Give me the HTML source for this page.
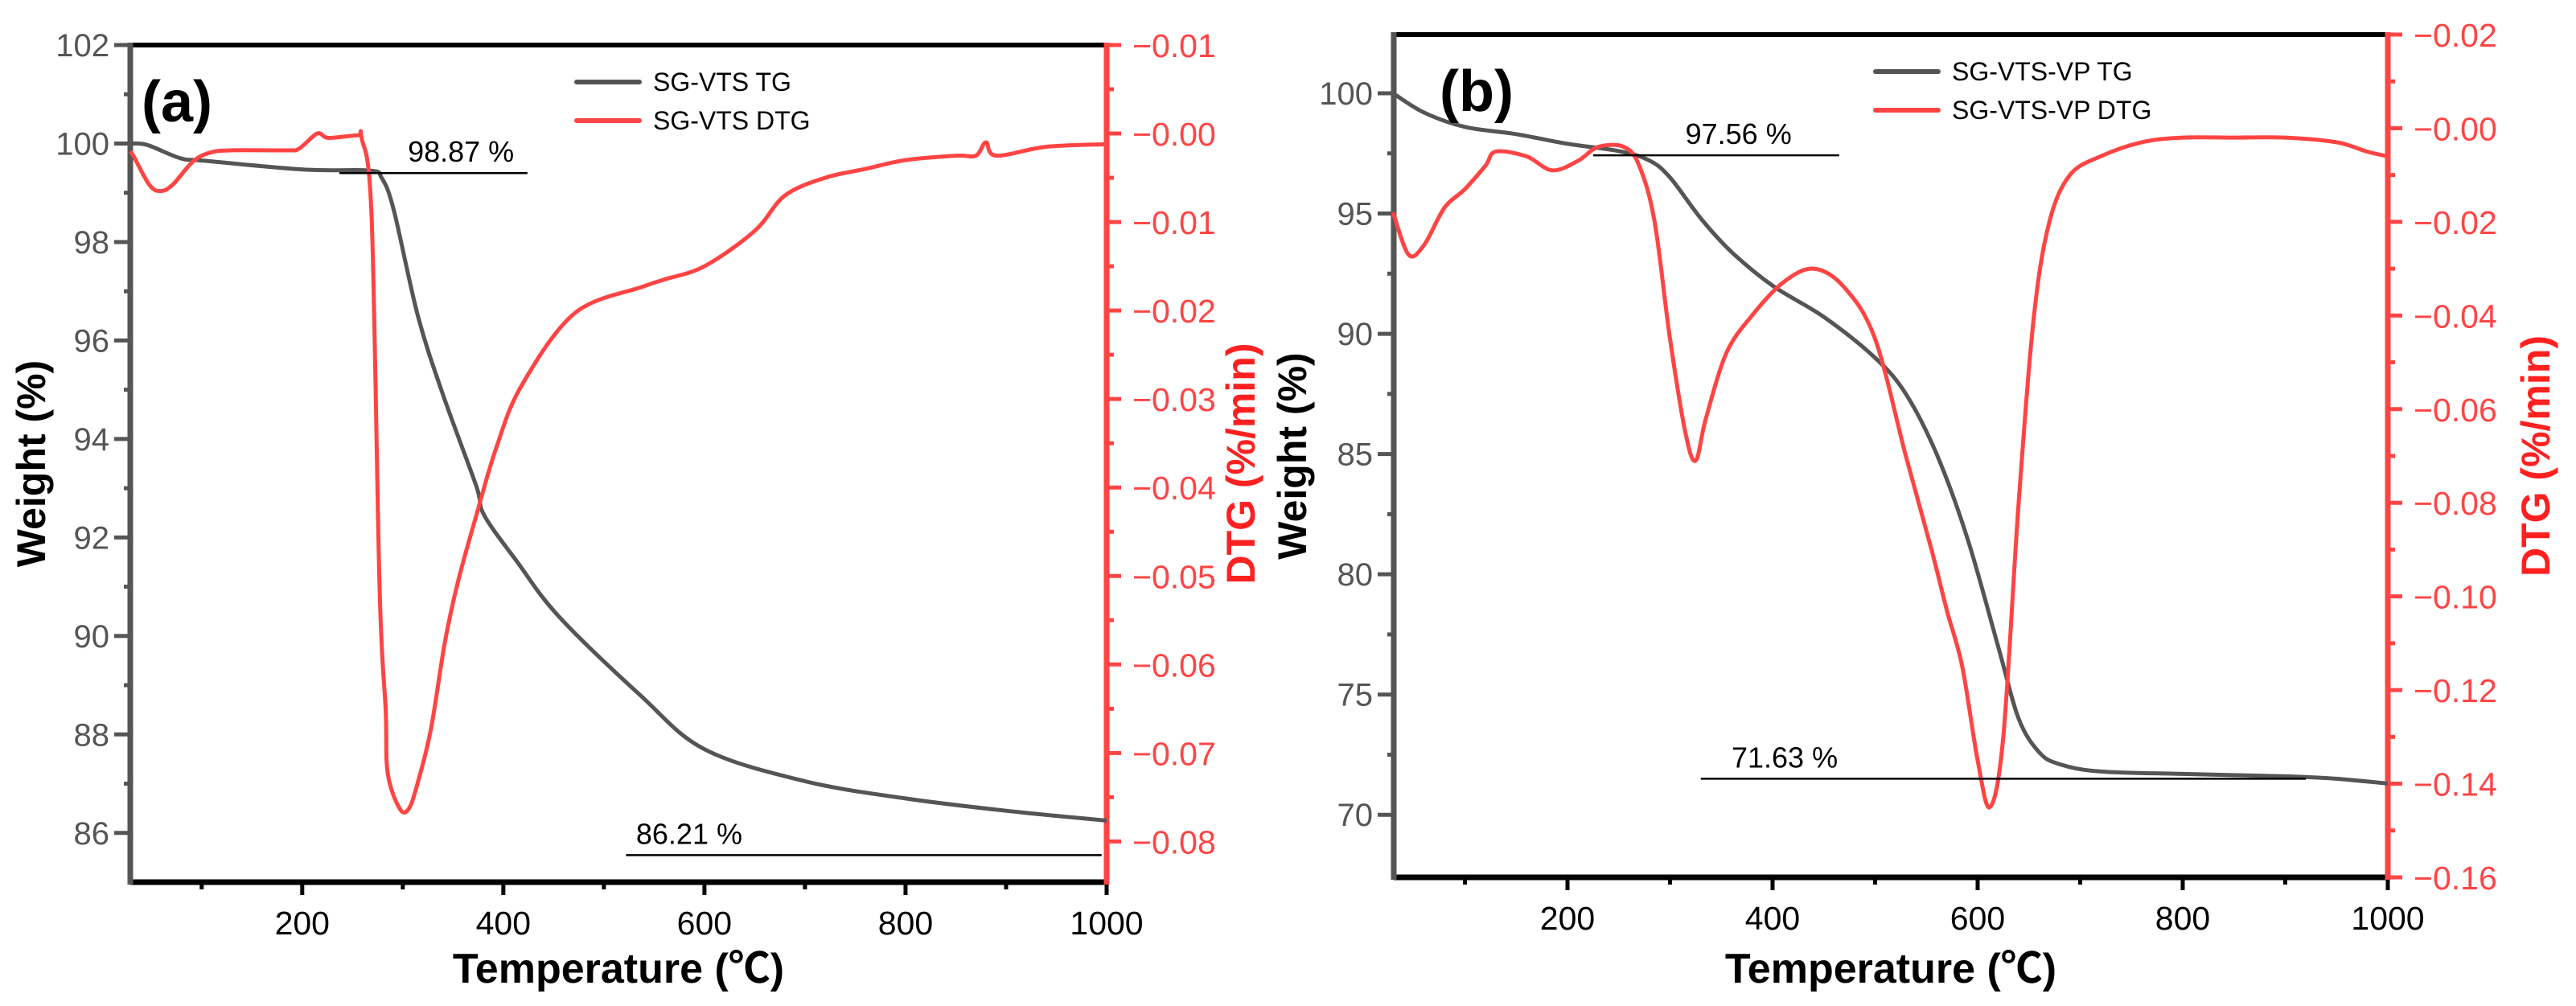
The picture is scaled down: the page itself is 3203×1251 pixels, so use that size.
<!DOCTYPE html>
<html><head><meta charset="utf-8"><style>
html,body{margin:0;padding:0;background:#fff;}
svg{display:block;font-family:"Liberation Sans","Noto Sans CJK SC",sans-serif;}
</style></head><body>
<svg id="c" width="3203" height="1251" viewBox="0 0 3203 1251" xmlns="http://www.w3.org/2000/svg"></svg>
<script>
// ---- Panel (a) data ----
const aTgT = [29,46,79,103,202,267,279,291,315,340,373,381,414,455,536,600,700,800,900,1000];
const aTgW = [100.0,99.97,99.7,99.65,99.47,99.45,99.3,98.65,96.5,94.9,93.05,92.45,91.5,90.4,88.8,87.7,87.05,86.7,86.45,86.25];
const aDtgT = [29,32,48,59,71,91,107,128,185,197,215,226,255,259,269,277,283,285,297,306,315,328,342,355,373,393,418,471,539,560,600,650,680,720,760,800,850,870,880,890,940,1000];
const aDtgV = [-0.002,-0.0025,-0.0058,-0.0065,-0.0058,-0.0032,-0.0022,-0.0019,-0.0019,-0.0017,0.0,-0.0005,-0.0002,-0.0005,-0.0095,-0.0517,-0.0652,-0.0723,-0.0763,-0.0763,-0.0733,-0.0673,-0.0574,-0.0506,-0.0432,-0.0355,-0.0285,-0.0203,-0.0173,-0.0165,-0.0150,-0.0110,-0.0070,-0.0050,-0.0040,-0.0030,-0.0025,-0.0025,-0.0010,-0.0025,-0.0015,-0.0012];
const aWTicks = [86,88,90,92,94,96,98,100,102];
const aDtgTicks = [0.01,0,-0.01,-0.02,-0.03,-0.04,-0.05,-0.06,-0.07,-0.08];
const aDtgLabels = ["−0.01","−0.00","−0.01","−0.02","−0.03","−0.04","−0.05","−0.06","−0.07","−0.08"];
// ---- Panel (b) data ----
const bTgT = [30,60,100,150,200,250,280,300,330,360,400,450,500,530,560,590,620,640,660,680,720,800,900,950,1000];
const bTgW = [100,99.2,98.6,98.3,97.9,97.6,97.2,96.5,94.8,93.4,92.0,90.7,89.0,87.5,85.0,81.5,77.0,74.0,72.6,72.1,71.8,71.7,71.6,71.5,71.3];
const bDtgT = [30,45,60,80,100,120,130,160,185,210,230,255,270,285,300,315,325,335,355,380,410,440,470,500,530,555,570,585,600,612,625,640,655,670,690,720,760,800,850,900,950,980,1000];
const bDtgV = [-0.018,-0.027,-0.025,-0.017,-0.013,-0.008,-0.005,-0.006,-0.009,-0.007,-0.004,-0.004,-0.008,-0.02,-0.045,-0.065,-0.071,-0.062,-0.048,-0.04,-0.033,-0.03,-0.034,-0.045,-0.07,-0.09,-0.103,-0.115,-0.135,-0.145,-0.13,-0.08,-0.04,-0.02,-0.01,-0.006,-0.003,-0.002,-0.002,-0.002,-0.003,-0.005,-0.006];
const bWTicks = [70,75,80,85,90,95,100];
const bDtgTicks = [0.02,0,-0.02,-0.04,-0.06,-0.08,-0.10,-0.12,-0.14,-0.16];
const bDtgLabels = ["−0.02","−0.00","−0.02","−0.04","−0.06","−0.08","−0.10","−0.12","−0.14","−0.16"];
const xTicks = [200,400,600,800,1000];

const svg = document.getElementById('c');
const NS = 'http://www.w3.org/2000/svg';
function mk(tag, attrs, parent){const e=document.createElementNS(NS,tag);for(const k in attrs)e.setAttribute(k,attrs[k]);(parent||svg).appendChild(e);return e;}
function txt(s, attrs, parent){const e=mk('text',attrs,parent);e.textContent=s;return e;}
function smooth(pts){
  let d='M'+pts[0][0].toFixed(1)+','+pts[0][1].toFixed(1);
  for(let i=0;i<pts.length-1;i++){
    const p0=pts[Math.max(0,i-1)],p1=pts[i],p2=pts[i+1],p3=pts[Math.min(pts.length-1,i+2)];
    const k=1/6;
    const c1=[p1[0]+(p2[0]-p0[0])*k,p1[1]+(p2[1]-p0[1])*k];
    const c2=[p2[0]-(p3[0]-p1[0])*k,p2[1]-(p3[1]-p1[1])*k];
    d+=' C'+c1[0].toFixed(1)+','+c1[1].toFixed(1)+' '+c2[0].toFixed(1)+','+c2[1].toFixed(1)+' '+p2[0].toFixed(1)+','+p2[1].toFixed(1);
  }
  return d;
}

function panel(cfg){
  const g = mk('g',{});
  
  
  const X = t => cfg.L + (t - cfg.t0)*(cfg.R-cfg.L)/(cfg.t1-cfg.t0);
  const YW = w => cfg.B - (w - cfg.w0)*(cfg.B-cfg.T)/(cfg.w1-cfg.w0);
  const YD = v => cfg.B - (v - cfg.d0)*(cfg.B-cfg.T)/(cfg.d1-cfg.d0);
  for(let t=100;t<=1000;t+=100){
    const major = t%200===0;
    const tk = mk('line',{x1:X(t),x2:X(t),y1:cfg.B,y2:cfg.B+(major?16:9),stroke:'#000','stroke-width':5},g);
    
    
  }
  xTicks.forEach(t=>{
    const l = txt(String(t),{x:X(t),y:cfg.B+65,'text-anchor':'middle','font-size':41,fill:'#000'},g);
    
    
  });
  for(let w=cfg.wMinorStart; w<=cfg.w1+1e-6; w+=cfg.wMinor){
    const isMaj = cfg.wTicks.some(v=>Math.abs(v-w)<1e-6);
    const tk = mk('line',{x1:cfg.L-(isMaj?20:8),x2:cfg.L,y1:YW(w),y2:YW(w),stroke:'#555','stroke-width':5},g);
    
    
  }
  cfg.wTicks.forEach(w=>{
    const l = txt(String(w),{x:cfg.L-26,y:YW(w)+14,'text-anchor':'end','font-size':40,fill:'#555'},g);
    
    
  });
  for(let i=0;i<cfg.dTicks.length;i++){
    const v=cfg.dTicks[i];
    const tk = mk('line',{x1:cfg.R,x2:cfg.R+18,y1:YD(v),y2:YD(v),stroke:'#ff4444','stroke-width':5},g);
    
    
    if(i<cfg.dTicks.length-1){
      const vm=(v+cfg.dTicks[i+1])/2;
      const tm = mk('line',{x1:cfg.R,x2:cfg.R+9,y1:YD(vm),y2:YD(vm),stroke:'#ff4444','stroke-width':5},g);
      
      
    }
    const l = txt(cfg.dLabels[i],{x:cfg.R+32,y:YD(v)+15,'font-size':41,fill:'#ff4444'},g);
    
    
  }
  const top = mk('line',{x1:cfg.L,x2:cfg.R,y1:cfg.T,y2:cfg.T,stroke:'#000','stroke-width':6},g);
   
  const bot = mk('line',{x1:cfg.L,x2:cfg.R,y1:cfg.B,y2:cfg.B,stroke:'#000','stroke-width':7},g);
   
  const left = mk('line',{x1:cfg.L,x2:cfg.L,y1:cfg.T-3,y2:cfg.B+3,stroke:'#555','stroke-width':7},g);
   
  const right = mk('line',{x1:cfg.R,x2:cfg.R,y1:cfg.T-3,y2:cfg.B+3,stroke:'#ff4444','stroke-width':7},g);
   
  const tg = mk('path',{d:smooth(cfg.tgT.map((t,i)=>[X(t),YW(cfg.tgW[i])])),fill:'none',stroke:'#555','stroke-width':5,'stroke-linejoin':'round'},g);
   
  const dtg = mk('path',{d:smooth(cfg.dT.map((t,i)=>[X(t),YD(cfg.dV[i])])),fill:'none',stroke:'#ff4444','stroke-width':5,'stroke-linejoin':'round'},g);
   
  cfg.ann.forEach(a=>{
    const ln = mk('line',{x1:X(a.t0),x2:X(a.t1),y1:YW(a.w),y2:YW(a.w),stroke:'#000','stroke-width':2.5},g);
     
    const tx = txt(a.text,{x:X(a.tx),y:YW(a.w)-14,'font-size':36,fill:'#000'},g);
     
  });
  const lg = mk('g',{},g);
   
  [['#555',cfg.leg[0]],['#ff4444',cfg.leg[1]]].forEach((it,i)=>{
    const y = cfg.legY + i*48;
    const ll = mk('line',{x1:cfg.legX,x2:cfg.legX+78,y1:y,y2:y,stroke:it[0],'stroke-width':6,'stroke-linecap':'round'},lg);
     
    const lt = txt(it[1],{x:cfg.legX+95,y:y+11,'font-size':32,fill:'#000'},lg);
     
  });
  const pl = txt(cfg.tag,{x:cfg.tagX,y:cfg.T+95,'font-size':72,'font-weight':'bold',fill:'#000'},g);
   
  const xt = txt('Temperature (℃)',{x:(cfg.L+cfg.R)/2,y:1222,'text-anchor':'middle','font-size':52,'font-weight':'bold',fill:'#000'},g);
   
  const yc=(cfg.T+cfg.B)/2;
  const yt = txt('Weight (%)',{x:cfg.ylx,y:yc,'text-anchor':'middle','font-size':50,'font-weight':'bold',fill:'#000',transform:`rotate(-90 ${cfg.ylx} ${yc})`},g);
   
  const rt = txt('DTG (%/min)',{x:cfg.yrx,y:yc,'text-anchor':'middle','font-size':50,'font-weight':'bold',fill:'#ff2020',transform:`rotate(-90 ${cfg.yrx} ${yc})`},g);
   
}

panel({id:'panel-a',L:162,R:1376,T:56,B:1097,t0:29,t1:1000,w0:85,w1:102,
  d0:-0.0846,d1:0.01,wTicks:aWTicks,wMinorStart:86,wMinor:1,dTicks:aDtgTicks,dLabels:aDtgLabels,
  tgT:aTgT,tgW:aTgW,dT:aDtgT,dV:aDtgV,
  ann:[{t0:237,t1:424,w:99.4,tx:305,text:'98.87 %'},{t0:522,t1:995,w:85.55,tx:532,text:'86.21 %'}],
  leg:['SG-VTS TG','SG-VTS DTG'],legX:717,legY:102,tag:'(a)',tagX:176,ylx:56,yrx:1560});
panel({id:'panel-b',L:1733,R:2969,T:43,B:1091,t0:30.6,t1:1000,w0:67.4,w1:102.44,
  d0:-0.16,d1:0.02,wTicks:bWTicks,wMinorStart:70,wMinor:2.5,dTicks:bDtgTicks,dLabels:bDtgLabels,
  tgT:bTgT,tgW:bTgW,dT:bDtgT,dV:bDtgV,
  ann:[{t0:225,t1:465,w:97.42,tx:315,text:'97.56 %'},{t0:330,t1:920,w:71.5,tx:360,text:'71.63 %'}],
  leg:['SG-VTS-VP TG','SG-VTS-VP DTG'],legX:2332,legY:89,tag:'(b)',tagX:1790,ylx:1624,yrx:3170});
</script>
</body></html>
